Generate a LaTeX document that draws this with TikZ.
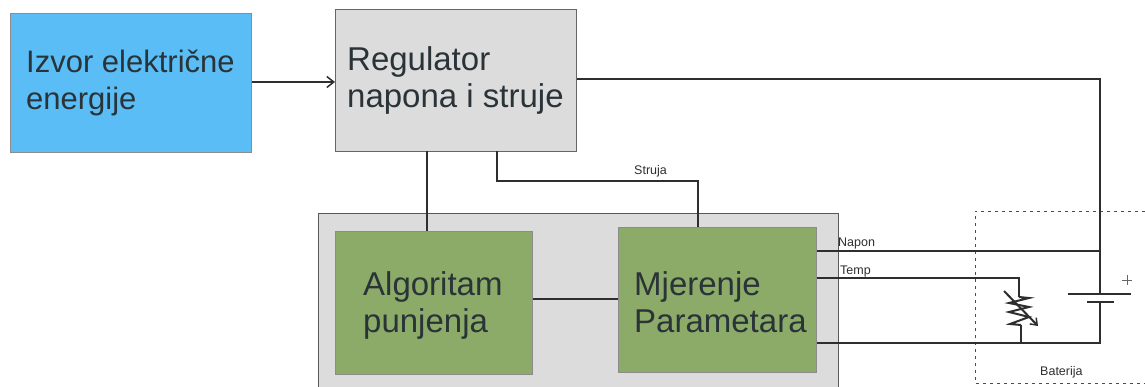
\documentclass[tikz,border=0pt]{standalone}
\usepackage{fontspec}
\setmainfont{Liberation Sans}
\usetikzlibrary{arrows.meta}
\definecolor{bluefill}{HTML}{5BBDF5}
\definecolor{grayfill}{HTML}{DCDCDC}
\definecolor{greenfill}{HTML}{8DAB68}
\definecolor{ink}{HTML}{2E2E2E}
\definecolor{txt}{HTML}{2A3338}
\tikzset{
  x=1pt,y=-1pt,
  box/.style={draw=#1,line width=1pt,inner sep=0pt,anchor=north west},
  big/.style={font=\fontsize{#1}{37}\selectfont,text=txt,align=left,inner sep=0pt,anchor=north west},
  small/.style={font=\fontsize{12.5}{14}\selectfont,text=ink,inner sep=0pt},
  wire/.style={draw=ink,line width=1.7pt}
}
\begin{document}
\begin{tikzpicture}
\useasboundingbox (0,0) rectangle (1145,387);
% enclosure
\fill[grayfill] (318,214) rectangle (838,387);
\draw[draw=black!65,line width=1pt] (318,387) -- (318,214) -- (838,214) -- (838,387);
% boxes
\node[box=black!45,fill=bluefill,minimum width=241pt,minimum height=139pt] (izvor) at (10,13) {};
\node[box=black!60,fill=grayfill,minimum width=241pt,minimum height=142pt] (reg) at (335,9) {};
\node[box=black!45,fill=greenfill,minimum width=197pt,minimum height=143pt] (alg) at (335,231) {};
\node[box=black!45,fill=greenfill,minimum width=198pt,minimum height=145pt] (mjer) at (618,227) {};
% texts
\node[big=31] (t1) at (26,50) {Izvor električne\\energije};
\node[big=33] (t2) at (347,46) {Regulator\\napona i struje};
\node[big=33] (t3) at (363,271) {Algoritam\\punjenja};
\node[big=33] (t4) at (634,271) {Mjerenje\\Parametara};
% battery frame
\draw[black!70,dash pattern=on 3pt off 4pt,line width=.8pt] (1145,211) -- (975,211) -- (975,383) -- (1145,383);
% named points
\coordinate (bat) at (1100,294);
\coordinate (batlow) at (1100,302);
\coordinate (corner) at (1100,343);
\coordinate (napj) at (1100,251);
\coordinate (restop) at (1019,297);
\coordinate (resbot) at (1021,325);
\coordinate (tempc) at (1019,278);
\coordinate (resj) at (1021,343);
% connectors
\draw[wire,-{Straight Barb[length=7pt,width=11pt,line width=1.5pt]}] (izvor.east |- 0,82) -- (reg.west |- 0,82);
\draw[wire] (reg.east |- 0,79) -- (1100,79) -- (bat);
\draw[wire] (427,151) -- (427,231);
\draw[wire] (497,151) -- (497,181) -- (698,181) -- (698,227);
\draw[wire] (alg.east |- 0,299) -- (mjer.west |- 0,299);
\draw[wire] (mjer.east |- napj) -- (napj);
\draw[wire] (mjer.east |- tempc) -- (tempc) -- (restop);
\draw[wire] (mjer.east |- corner) -- (corner) -- (batlow);
\draw[wire] (resbot) -- (resj);
% battery plates
\draw[wire] (1068,294) -- (1131,294);
\draw[wire] (1087,302) -- (1114,302);
\draw[black!60,line width=.7pt] (1122,280) -- (1132,280) (1127,275) -- (1127,285);
% resistor
\draw[draw=ink,line width=2pt,line join=miter] (restop) -- (1029,298) -- (1009,303) -- (1029,307) -- (1009,312) -- (1029,317) -- (1010,324) -- (resbot);
\draw[draw=ink,line width=2pt,-{Straight Barb[length=6pt,width=9pt,line width=1.5pt]}] (1004,291) -- (1038,326);
% labels
\node[small,anchor=base west] (s1) at (634,175) {Struja};
\node[small,anchor=base west] (s2) at (838,247) {Napon};
\node[small,anchor=base west] (s3) at (840,275) {Temp};
\node[small,anchor=base west] (s4) at (1040,375) {Baterija};
\end{tikzpicture}
\end{document}
